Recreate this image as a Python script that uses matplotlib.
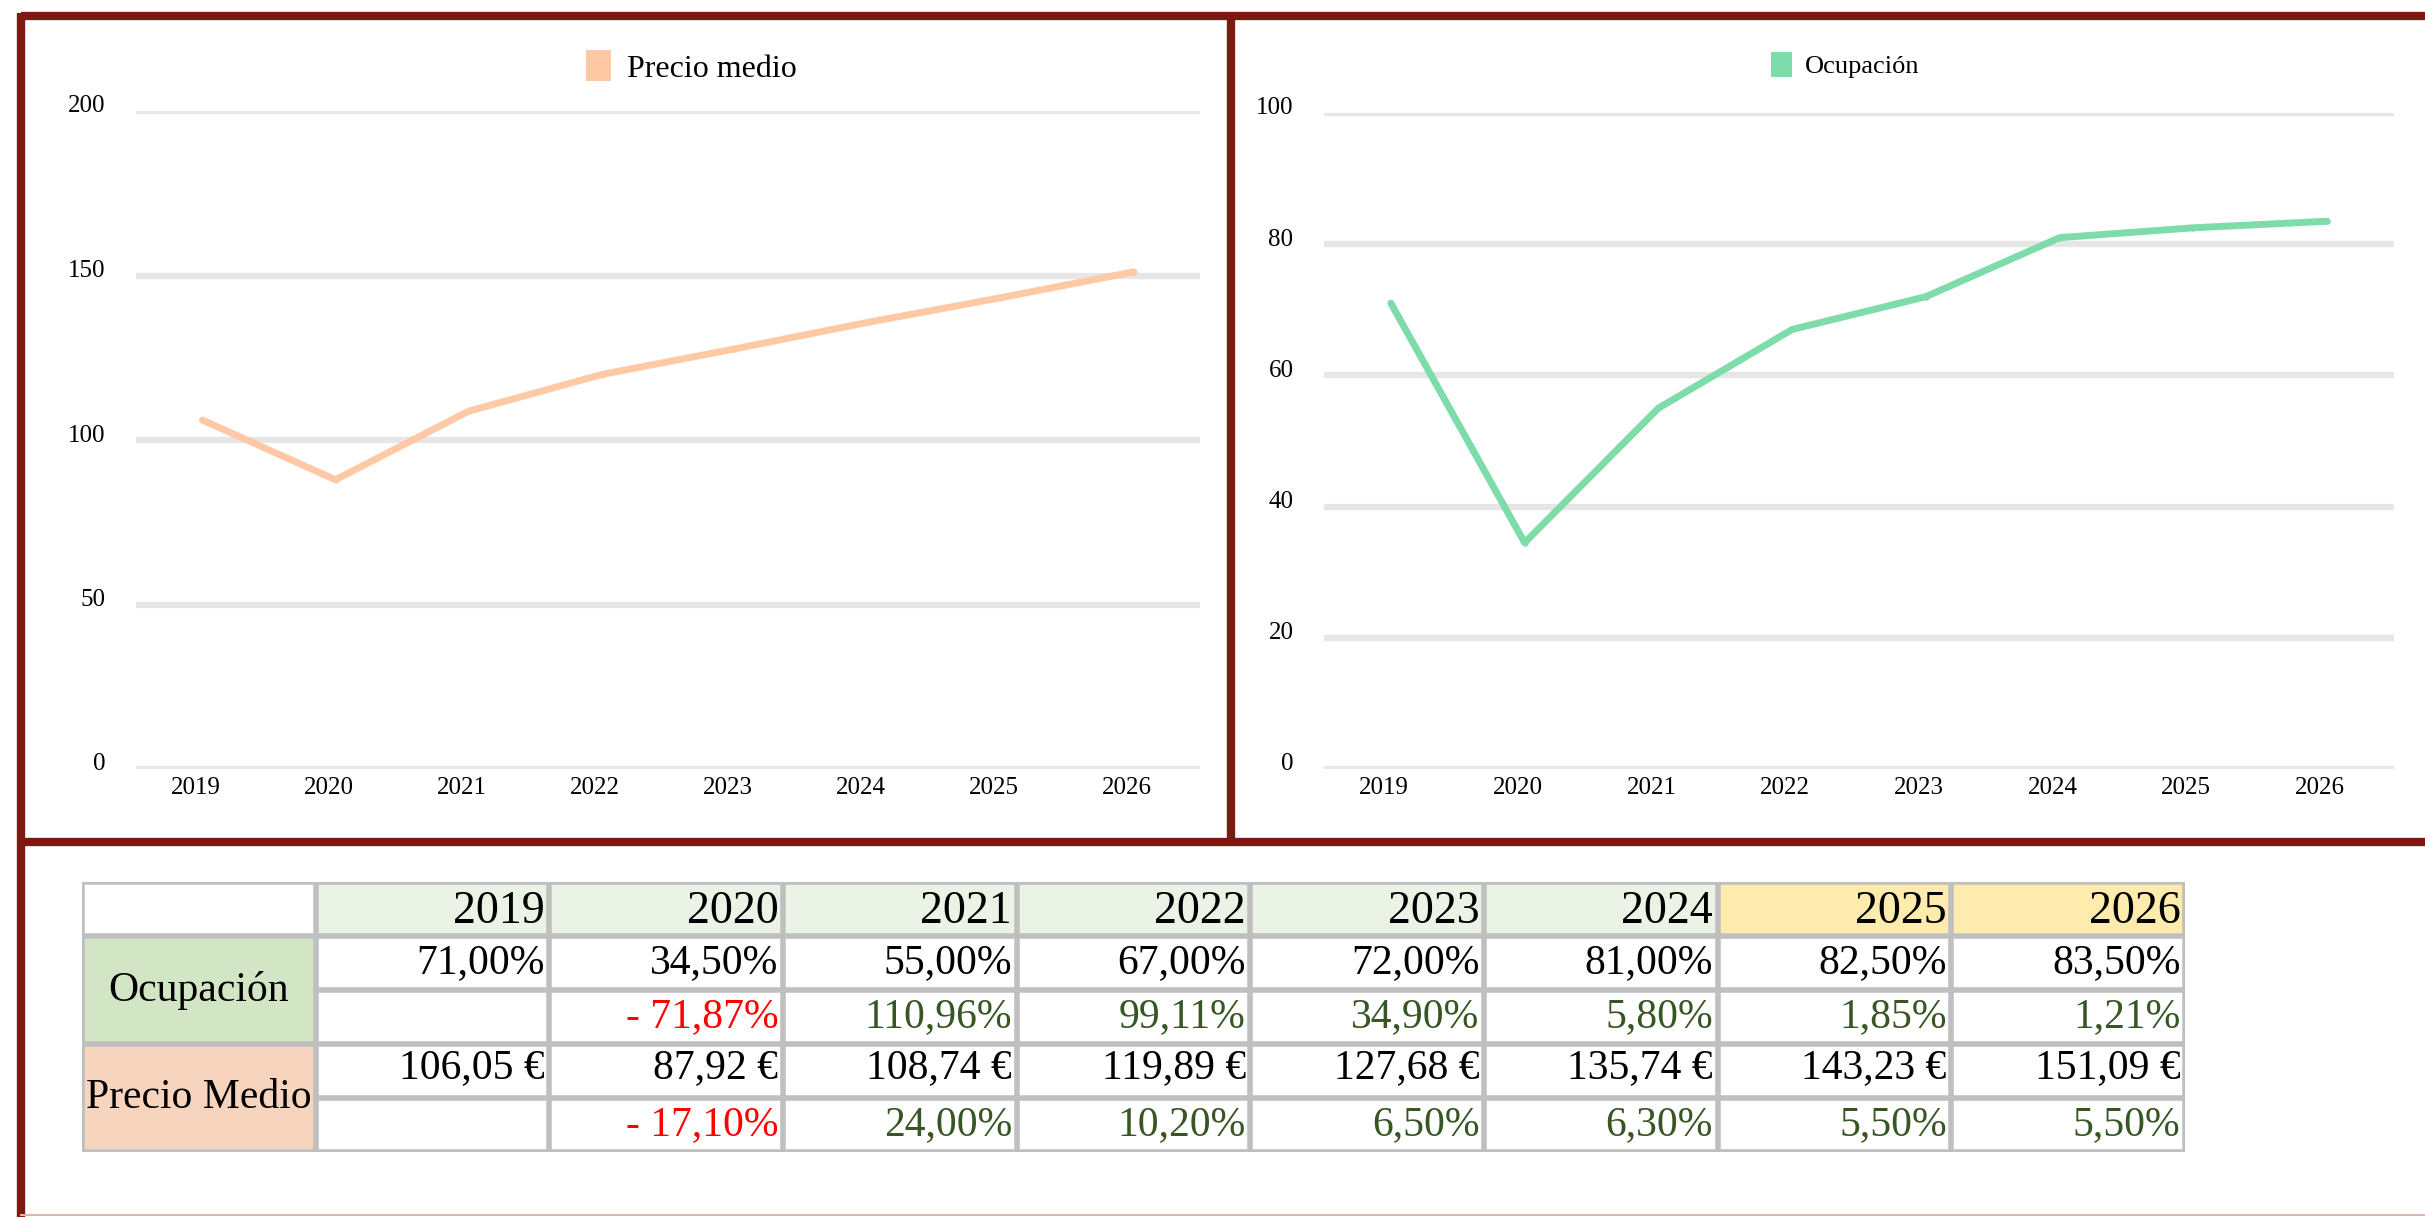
import matplotlib
matplotlib.use("Agg")
import matplotlib.pyplot as plt
from matplotlib.patches import Patch, Rectangle
from matplotlib.transforms import ScaledTranslation

plt.rcParams['font.family'] = ['Liberation Serif', 'DejaVu Serif']

# data
years = ['2019', '2020', '2021', '2022', '2023', '2024', '2025', '2026']
precio = [106.05, 87.92, 108.74, 119.89, 127.68, 135.74, 143.23, 151.09]
ocupacion = [71.00, 34.50, 55.00, 67.00, 72.00, 81.00, 82.50, 83.50]
ocup_var = [None, -71.87, 110.96, 99.11, 34.90, 5.80, 1.85, 1.21]
precio_var = [None, -17.10, 24.00, 10.20, 6.50, 6.30, 5.50, 5.50]

W, H = 2425, 1217
DPI = 100
fig = plt.figure(figsize=(W / DPI, H / DPI), dpi=DPI)

peach = '#FFC9A6'
mint = '#7EDCAA'
grid_c = '#E6E6E6'
border_c = '#7A1A10'


def px_ax(x0, y0, x1, y1):
    # axes from pixel box (top-left origin)
    return fig.add_axes([x0 / W, 1 - y1 / H, (x1 - x0) / W, (y1 - y0) / H])


def style_chart(ax, vals, color, top, step, label, legsize, legpos):
    xs = list(range(len(years)))
    ax.plot(xs, vals, color=color, lw=5, marker='o', ms=3.5, solid_capstyle='round')
    ax.set_xlim(-0.5, len(years) - 0.5)
    ax.set_ylim(0, top)
    ax.set_yticks(range(0, top + 1, step))
    ax.set_xticks(xs)
    ax.set_xticklabels(years)
    ax.grid(axis='y', color=grid_c, lw=4.5)
    ax.set_axisbelow(True)
    for s in ax.spines.values():
        s.set_visible(False)
    ax.tick_params(length=0, labelsize=18, colors='black')
    ax.tick_params(axis='y', pad=22)
    ax.tick_params(axis='x', pad=6)
    for t in ax.get_yticklabels():
        t.set_transform(t.get_transform() + ScaledTranslation(0, 7 / DPI, fig.dpi_scale_trans))
    for t in ax.get_xticklabels():
        t.set_transform(t.get_transform() + ScaledTranslation(-7 / DPI, 0, fig.dpi_scale_trans))
    h = [Patch(facecolor=color, edgecolor='none', label=label)]
    ax.legend(handles=h, loc='center', bbox_to_anchor=legpos, frameon=False,
              fontsize=legsize, handlelength=0.8, handleheight=1.1, handletextpad=0.5)


ax1 = px_ax(136, 111, 1200, 769)
style_chart(ax1, precio, peach, 200, 50, 'Precio medio', 23, (0.522, 1 + 44 / 658))

ax2 = px_ax(1324, 113, 2394, 769)
style_chart(ax2, ocupacion, mint, 100, 20, 'Ocupación', 19, (0.487, 1 + 48 / 656))

# table
tx0, ty0, tx1, ty1 = 82, 882, 2185, 1152
tab = px_ax(tx0, ty0, tx1, ty1)
ncol, nrow = len(years) + 1, 5
tab.set_xlim(0, ncol)
tab.set_ylim(nrow, 0)
tab.axis('off')

hdr_green = '#EBF3E6'
hdr_yellow = '#FFEBAE'
lab_green = '#D2E5C4'
lab_peach = '#F6D4BD'

for i, y in enumerate(years):
    c = hdr_yellow if i >= 6 else hdr_green
    tab.add_patch(Rectangle((i + 1, 0), 1, 1, facecolor=c, edgecolor='none'))
tab.add_patch(Rectangle((0, 1), 1, 2, facecolor=lab_green, edgecolor='none'))
tab.add_patch(Rectangle((0, 3), 1, 2, facecolor=lab_peach, edgecolor='none'))

line_c = '#BFBFBF'
for r in range(nrow + 1):
    x_start = 1 if r in (2, 4) else 0
    tab.plot([x_start, ncol], [r, r], color=line_c, lw=4, solid_capstyle='butt')
for c in range(ncol + 1):
    tab.plot([c, c], [0, nrow], color=line_c, lw=4, solid_capstyle='butt')


def fmt(v, suf):
    s = f"{abs(v):.2f}".replace('.', ',') + suf
    return ('- ' + s) if v < 0 else s


pad = 0.02
fs = 30
for i, y in enumerate(years):
    xr = i + 2 - pad
    tab.text(xr, 0.55, y, ha='right', va='center', fontsize=33)
    tab.text(xr, 1.5, fmt(ocupacion[i], '%'), ha='right', va='center', fontsize=fs)
    tab.text(xr, 3.45, fmt(precio[i], ' €'), ha='right', va='center', fontsize=fs)
    for row, var in ((2.5, ocup_var[i]), (4.5, precio_var[i])):
        if var is None:
            continue
        col = '#FF0000' if var < 0 else '#375623'
        tab.text(xr, row, fmt(var, '%'), ha='right', va='center', fontsize=fs, color=col)

tab.text(0.5, 2.0, 'Ocupación', ha='center', va='center', fontsize=fs)
tab.text(0.5, 4.0, 'Precio Medio', ha='center', va='center', fontsize=fs)

# borders
ov = fig.add_axes([0, 0, 1, 1], zorder=-1)
ov.set_xlim(0, W)
ov.set_ylim(H, 0)
ov.axis('off')
ov.plot([21, W], [16, 16], color=border_c, lw=6, solid_capstyle='butt')
ov.plot([21, W], [842, 842], color=border_c, lw=6, solid_capstyle='butt')
ov.plot([21, 21], [13, H], color=border_c, lw=6, solid_capstyle='butt')
ov.plot([1231, 1231], [13, 842], color=border_c, lw=6, solid_capstyle='butt')
ov.plot([21, W], [1215, 1215], color='#E2B4AE', lw=1.5)

fig.savefig('out.png', dpi=DPI, facecolor='white')
